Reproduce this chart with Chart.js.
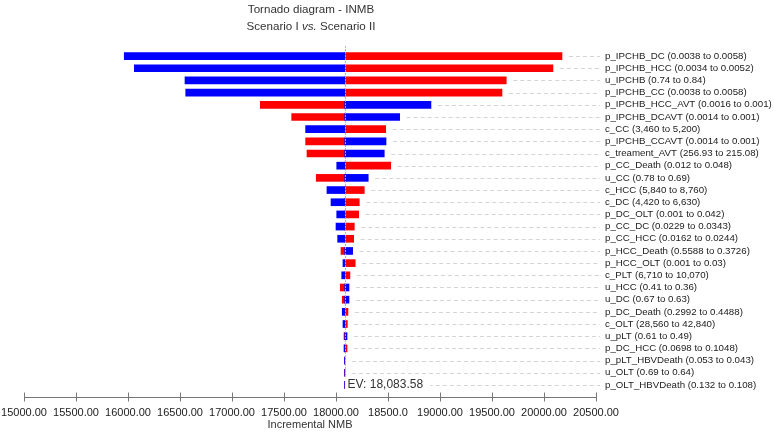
<!DOCTYPE html>
<html>
<head>
<meta charset="utf-8">
<script src="https://cdn.jsdelivr.net/npm/chart.js@4.4.1/dist/chart.umd.min.js"></script>
<style>
  html, body { margin: 0; padding: 0; background: #fff; }
  #wrap { width: 774px; height: 432px; position: relative; }
</style>
</head>
<body>
<div id="wrap"><canvas id="chart"></canvas></div>
<script>
// expected value of the base case
const EV = 18083.58;

const parameterLabels = [
  'p_IPCHB_DC (0.0038 to 0.0058)',
  'p_IPCHB_HCC (0.0034 to 0.0052)',
  'u_IPCHB (0.74 to 0.84)',
  'p_IPCHB_CC (0.0038 to 0.0058)',
  'p_IPCHB_HCC_AVT (0.0016 to 0.001)',
  'p_IPCHB_DCAVT (0.0014 to 0.001)',
  'c_CC (3,460 to 5,200)',
  'p_IPCHB_CCAVT (0.0014 to 0.001)',
  'c_treament_AVT (256.93 to 215.08)',
  'p_CC_Death (0.012 to 0.048)',
  'u_CC (0.78 to 0.69)',
  'c_HCC (5,840 to 8,760)',
  'c_DC (4,420 to 6,630)',
  'p_DC_OLT (0.001 to 0.042)',
  'p_CC_DC (0.0229 to 0.0343)',
  'p_CC_HCC (0.0162 to 0.0244)',
  'p_HCC_Death (0.5588 to 0.3726)',
  'p_HCC_OLT (0.001 to 0.03)',
  'c_PLT (6,710 to 10,070)',
  'u_HCC (0.41 to 0.36)',
  'u_DC (0.67 to 0.63)',
  'p_DC_Death (0.2992 to 0.4488)',
  'c_OLT (28,560 to 42,840)',
  'u_pLT (0.61 to 0.49)',
  'p_DC_HCC (0.0698 to 0.1048)',
  'p_pLT_HBVDeath (0.053 to 0.043)',
  'u_OLT (0.69 to 0.64)',
  'p_OLT_HBVDeath (0.132 to 0.108)',
];

// NMB at the end of each parameter range (blue / red segment)
const blueNMB = [
  15964, 16061, 16548, 16555, 18913, 18612, 17708, 18481, 18464, 18007,
  18310, 17913, 17952, 18007, 18000, 18016, 18160, 18067, 18055, 18125,
  18125, 18060, 18067, 18106, 18077, 18082, 18086, 18083,
];
const redNMB = [
  20173, 20086, 19637, 19596, 17272, 17574, 18478, 17708, 17721, 18526,
  17810, 18272, 18224, 18218, 18176, 18170, 18048, 18185, 18134, 18041,
  18060, 18115, 18109, 18077, 18106, 18086, 18082, 18084,
];

const xTickLabels = [
  '15000.00', '15500.00', '16000.00', '16500.00', '17000.00', '17500.00',
  '18000.00', '18500.0', '19000.00', '19500.00', '20000.00', '20500.00',
];

const FONT = "'Liberation Sans', Arial, Helvetica, sans-serif";

const tornadoDecor = {
  id: 'tornadoDecor',
  beforeDatasetsDraw(chart) {
    const { ctx, chartArea, scales: { x, y } } = chart;
    ctx.save();
    ctx.strokeStyle = '#d4d4d4';
    ctx.lineWidth = 1;
    ctx.setLineDash([4, 3]);
    parameterLabels.forEach((_, i) => {
      const yy = Math.round(y.getPixelForValue(i)) + 0.5;
      const end = x.getPixelForValue(Math.max(EV, blueNMB[i], redNMB[i]));
      ctx.beginPath();
      ctx.moveTo(end + 7, yy);
      ctx.lineTo(chartArea.right + 4, yy);
      ctx.stroke();
    });
    ctx.restore();
  },
  afterDatasetsDraw(chart) {
    const { ctx, chartArea, scales: { x, y } } = chart;
    const evX = Math.round(x.getPixelForValue(EV)) + 0.5;
    const lastY = y.getPixelForValue(parameterLabels.length - 1);

    // EV line
    ctx.save();
    ctx.strokeStyle = 'rgba(170, 170, 215, 0.9)';
    ctx.lineWidth = 1;
    ctx.setLineDash([2, 1]);
    ctx.beginPath();
    ctx.moveTo(evX, chartArea.top - 4);
    ctx.lineTo(evX, lastY - 8);
    ctx.stroke();
    ctx.restore();

    // EV label
    ctx.save();
    ctx.font = `12px ${FONT}`;
    const evText = 'EV: 18,083.58';
    const w = ctx.measureText(evText).width;
    ctx.fillStyle = '#fff';
    ctx.fillRect(evX + 1, lastY - 7, w + 8, 14);
    ctx.fillStyle = '#333';
    ctx.textBaseline = 'middle';
    ctx.fillText(evText, evX + 2, lastY);
    ctx.restore();

    // x axis line with crossing tick marks
    const axisY = Math.round(chartArea.bottom + 6) + 0.5;
    ctx.save();
    ctx.strokeStyle = '#777';
    ctx.lineWidth = 1;
    ctx.beginPath();
    ctx.moveTo(chartArea.left, axisY);
    ctx.lineTo(chartArea.right, axisY);
    x.ticks.forEach((t) => {
      const tx = Math.round(x.getPixelForValue(t.value)) + 0.5;
      ctx.moveTo(tx, axisY - 5);
      ctx.lineTo(tx, axisY + 4);
    });
    ctx.stroke();
    ctx.restore();
  },
  afterDraw(chart) {
    const { ctx, chartArea } = chart;
    const cx = (chartArea.left + chartArea.right) / 2 + 1;
    ctx.save();
    ctx.fillStyle = '#333';
    ctx.textBaseline = 'middle';
    ctx.textAlign = 'center';
    ctx.font = `11.6px ${FONT}`;
    ctx.fillText('Tornado diagram - INMB', cx, 10);

    // second line with italic "vs."
    const a = 'Scenario I ', b = 'vs.', c = ' Scenario II';
    ctx.textAlign = 'left';
    const normal = `11.6px ${FONT}`, italic = `italic 11.6px ${FONT}`;
    ctx.font = normal;
    const wa = ctx.measureText(a).width, wc = ctx.measureText(c).width;
    ctx.font = italic;
    const wb = ctx.measureText(b).width;
    let sx = cx - (wa + wb + wc) / 2;
    ctx.font = normal; ctx.fillText(a, sx, 27); sx += wa;
    ctx.font = italic; ctx.fillText(b, sx, 27); sx += wb;
    ctx.font = normal; ctx.fillText(c, sx, 27);
    ctx.restore();
  },
};

new Chart(document.getElementById('chart'), {
  type: 'bar',
  data: {
    labels: parameterLabels,
    datasets: [
      {
        label: 'blue',
        data: blueNMB.map((v) => [EV, v]),
        backgroundColor: '#0000ff',
        grouped: false,
        barThickness: 7,
      },
      {
        label: 'red',
        data: redNMB.map((v) => [EV, v]),
        backgroundColor: '#ff0000',
        grouped: false,
        barThickness: 7,
      },
    ],
  },
  options: {
    indexAxis: 'y',
    responsive: true,
    maintainAspectRatio: false,
    animation: false,
    layout: { padding: { top: 50, left: 24, right: 0, bottom: 0 } },
    plugins: {
      legend: { display: false },
      tooltip: { enabled: false },
    },
    scales: {
      x: {
        min: 15000,
        max: 20500,
        grid: { display: false, drawTicks: false },
        border: { display: false },
        afterFit: (scale) => {
          scale.height = 41;
          scale.paddingLeft = 0;
          scale.paddingRight = 0;
        },
        ticks: {
          stepSize: 500,
          padding: 15,
          maxRotation: 0,
          autoSkip: false,
          color: '#222',
          font: { family: FONT, size: 11 },
          callback: (val, i) => xTickLabels[i],
        },
        title: {
          display: true,
          text: 'Incremental NMB',
          color: '#333',
          padding: { top: 0, bottom: 0 },
          font: { family: FONT, size: 11 },
        },
      },
      y: {
        position: 'right',
        grid: { display: false, drawTicks: false },
        border: { display: false },
        afterFit: (scale) => { scale.width = 178; },
        ticks: {
          padding: 9,
          autoSkip: false,
          color: '#222',
          font: { family: FONT, size: 9.7 },
        },
      },
    },
  },
  plugins: [tornadoDecor],
});
</script>
</body>
</html>
